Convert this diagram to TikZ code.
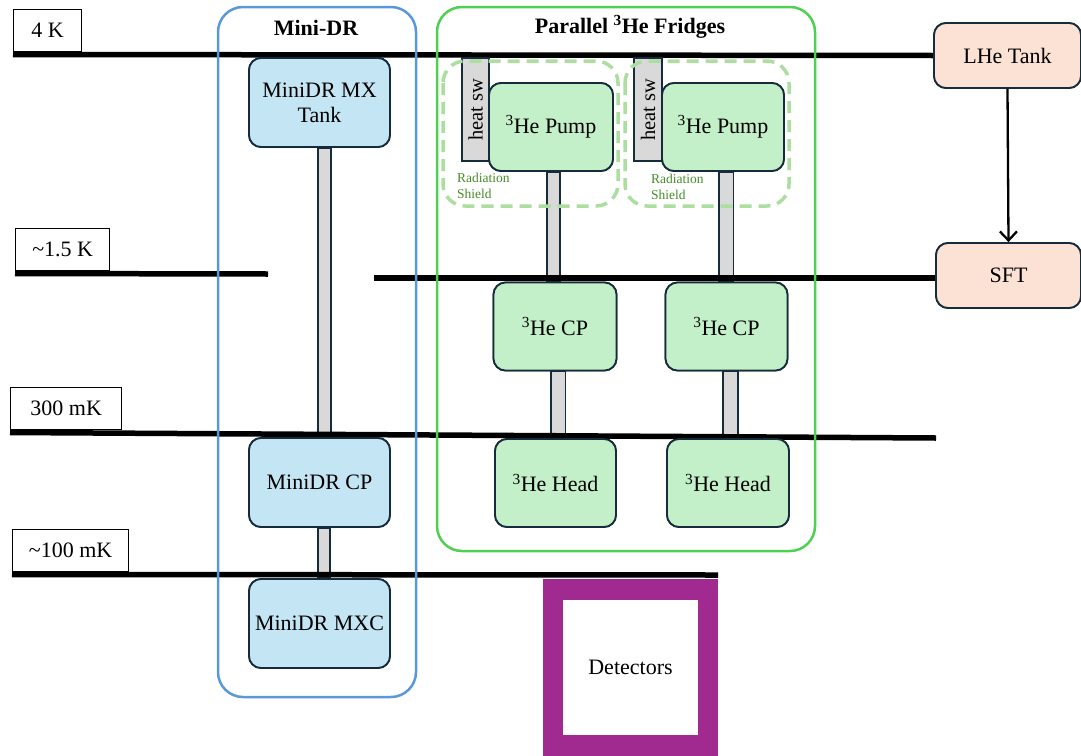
\documentclass[tikz,border=0pt]{standalone}
\usepackage{fontspec}
\setmainfont{Liberation Serif}
\usetikzlibrary{arrows.meta,calc}
\definecolor{edge}{RGB}{22,44,60}
\definecolor{bluefill}{RGB}{196,229,244}
\definecolor{greenfill}{RGB}{195,240,200}
\definecolor{peach}{RGB}{251,226,213}
\definecolor{barfill}{RGB}{217,217,217}
\definecolor{mdrblue}{RGB}{90,152,220}
\definecolor{frgreen}{RGB}{80,208,80}
\definecolor{shieldgreen}{RGB}{172,222,160}
\definecolor{shieldtext}{RGB}{70,140,40}
\definecolor{detpurple}{RGB}{160,42,143}
\newcommand{\isot}[1]{\textsuperscript{#1}}
\begin{document}
\begin{tikzpicture}[x=1pt,y=-1pt,
  txt/.style={font=\fontsize{22}{25}\selectfont},
  box/.style={txt,draw=edge,line width=1.8pt,rounded corners=12pt,inner sep=0pt,align=center},
  bluebox/.style={box,fill=bluefill,minimum width=141,minimum height=89},
  greenbox/.style={box,fill=greenfill,minimum width=122,minimum height=88},
  peachbox/.style={box,fill=peach,minimum width=147,minimum height=65},
  tlabel/.style={txt,draw=black,line width=1.3pt,fill=white,inner sep=0pt,anchor=south west,minimum height=42},
  tline/.style={line width=5.5pt},
  bar/.style={draw=edge,line width=1.5pt,fill=barfill},
  container/.style={line width=2.5pt,rounded corners=25pt},
  shield/.style={draw=shieldgreen,line width=3.5pt,dash pattern=on 12pt off 7pt,rounded corners=22pt},
  shieldlbl/.style={font=\fontsize{13.5}{15.5}\selectfont,text=shieldtext,align=left,anchor=north west,inner sep=0pt},
  heatsw/.style={draw=edge,line width=1.5pt,fill=barfill,minimum width=103,minimum height=27,inner sep=0pt,rotate=90,font=\fontsize{20.5}{22}\selectfont},
  title/.style={font=\fontsize{22}{25}\selectfont\bfseries}
]
\useasboundingbox (0,0) rectangle (1081,755);

% nodes (positions)
\node[bluebox] (mxtank) at (319.5,102.5) {MiniDR MX\\Tank};
\node[bluebox] (mdrcp) at (319.5,482.5) {MiniDR CP};
\node[bluebox] (mxc) at (319.5,623.5) {MiniDR MXC};

\node[greenbox,minimum width=124] (pumpA) at (551,127) {};
\node[greenbox] (pumpB) at (723,127) {};
\node[greenbox,minimum width=123] (cpA) at (555,326.5) {};
\node[greenbox] (cpB) at (726.5,326.5) {};
\node[greenbox,minimum width=121] (headA) at (555.5,483) {};
\node[greenbox] (headB) at (728,483) {};

\node[peachbox] (lhe) at (1007.5,55.5) {};
\node[peachbox,minimum width=145] (sft) at (1008.5,275.5) {};

% gray thermal links (behind the temperature lines)
\draw[bar] ($(mxtank.south)+(-1.5,0)$) rectangle ($(mdrcp.north)+(11.5,0)$);
\draw[bar] ($(mdrcp.south)+(-1.5,0)$) rectangle ($(mxc.north)+(10.5,0)$);
\draw[bar] ($(pumpA.south)+(-4,0)$) rectangle ($(cpA.north)+(5,0)$);
\draw[bar] ($(pumpB.south)+(-4,0)$) rectangle ($(cpB.north)+(7,0)$);
\draw[bar] ($(cpA.south)+(-4,0)$) rectangle ($(headA.north)+(10,0)$);
\draw[bar] ($(cpB.south)+(-3.5,0)$) rectangle ($(headB.north)+(10,0)$);

% temperature stages
\node[tlabel,minimum width=68] (l4k) at (13,52) {4 K};
\node[tlabel,minimum width=94] (l15k) at (15,271) {\textasciitilde1.5 K};
\node[tlabel,minimum width=111] (l300) at (10,430) {300 mK};
\node[tlabel,minimum width=116] (l100) at (12,572) {\textasciitilde100 mK};

\coordinate (a15) at (268,274);
\coordinate (b15) at (374,278);
\coordinate (e300) at (936,438);
\coordinate (e100) at (718,575);
\draw[tline] (l4k.south west) ++(0,2.5) -- (lhe.west);
\draw[tline] (l15k.south west) ++(0,2.5) -- (a15);
\draw[tline] (b15) -- (sft.west |- b15);
\draw[tline] (l300.south west) ++(0,2.5) -- (e300);
\draw[tline] (l100.south west) ++(0,2.5) -- (e100);

% nodes drawn on top of the lines
\node[bluebox] at (mxtank) {MiniDR MX\\Tank};
\node[bluebox] at (mdrcp) {MiniDR CP};
\node[bluebox] at (mxc) {MiniDR MXC};
\node[greenbox,minimum width=124] at (pumpA) {\raisebox{-3pt}{\isot{3}He Pump}};
\node[greenbox] at (pumpB) {\raisebox{-3pt}{\isot{3}He Pump}};
\node[greenbox,minimum width=123] at (cpA) {\isot{3}He CP};
\node[greenbox] at (cpB) {\isot{3}He CP};
\node[greenbox,minimum width=121] at (headA) {\isot{3}He Head};
\node[greenbox] at (headB) {\isot{3}He Head};
\node[peachbox] at (lhe) {LHe Tank};
\node[peachbox,minimum width=145] at (sft) {SFT};

% heat switches
\node[heatsw] (hswA) at (475.5,109.5) {heat sw};
\node[heatsw,minimum height=28] (hswB) at (648,109.5) {heat sw};

% radiation shields
\draw[shield] (443,61) rectangle (618,206);
\draw[shield] (625,61) rectangle (789,206);
\node[shieldlbl] (rsA) at (457,173) {Radiation\\Shield};
\node[shieldlbl] (rsB) at (651,174) {Radiation\\Shield};

% arrow LHe -> SFT
\draw[line width=2.3pt,-{Straight Barb[length=9pt,width=17pt,line width=2.3pt]}] (lhe.south) -- (sft.north);

% containers
\draw[container,draw=mdrblue] (218,7) rectangle (416,697);
\node[title] (tmdr) at (316,28) {Mini-DR};
\draw[container,draw=frgreen] (437,7) rectangle (815,551);
\node[title] (tfr) at (630,27) {Parallel \isot{3}He Fridges};

% detectors
\fill[detpurple] (543,579) rectangle (718,760);
\node[txt,fill=white,minimum width=135,minimum height=135,inner sep=0pt] (det) at (630.5,667.5) {Detectors};
\end{tikzpicture}
\end{document}
